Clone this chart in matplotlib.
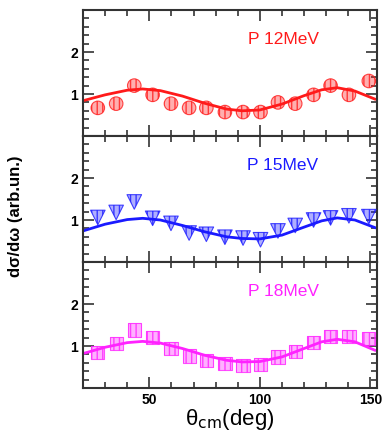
import matplotlib
matplotlib.use("Agg")
import matplotlib.pyplot as plt
from matplotlib.ticker import MultipleLocator

plt.rcParams['font.family'] = ['Liberation Sans', 'DejaVu Sans']

theta = [26.7, 35.0, 43.2, 51.5, 59.8, 68.0, 75.8, 84.2, 92.4, 100.3, 108.2, 116.0, 124.3, 132.0, 140.3, 149.3]
y12 = [0.67, 0.77, 1.20, 0.98, 0.77, 0.67, 0.67, 0.57, 0.57, 0.57, 0.80, 0.77, 0.98, 1.20, 0.98, 1.31]
y15 = [1.06, 1.18, 1.43, 1.04, 0.92, 0.69, 0.66, 0.59, 0.57, 0.53, 0.74, 0.87, 1.00, 1.05, 1.10, 1.08]
y18 = [0.84, 1.06, 1.38, 1.20, 0.94, 0.76, 0.66, 0.58, 0.54, 0.55, 0.74, 0.87, 1.08, 1.22, 1.22, 1.18]

curve_x = [20, 30, 40, 47, 55, 65, 75, 85, 92, 100, 110, 120, 128, 135, 143, 152]
c12 = [0.84, 0.98, 1.09, 1.12, 1.08, 0.95, 0.78, 0.64, 0.60, 0.62, 0.76, 0.96, 1.10, 1.15, 1.07, 0.88]
c15 = [0.74, 0.90, 1.01, 1.04, 1.00, 0.87, 0.72, 0.60, 0.56, 0.55, 0.64, 0.83, 0.98, 1.05, 1.00, 0.82]
c18 = [0.82, 0.97, 1.08, 1.11, 1.07, 0.94, 0.78, 0.66, 0.62, 0.63, 0.74, 0.94, 1.10, 1.16, 1.10, 0.90]

labels = ['P 12MeV', 'P 15MeV', 'P 18MeV']
colors = ['#ff1a1a', '#1a1aff', '#ff22ff']
markers = ['o', 'v', 's']
sizes = [95, 110, 90]

fig = plt.figure(figsize=(3.88, 4.32), dpi=100)
L, R, B, T = 83/388, 377/388, 1 - 388/432, 1 - 10/432
h = (T - B) / 3
datas = [(y12, c12), (y15, c15), (y18, c18)]
for i in range(3):
    ax = fig.add_axes([L, T - (i + 1) * h, R - L, h])
    yd, cd = datas[i]
    col = colors[i]
    ax.plot(curve_x, cd, color=col, lw=2, zorder=2)
    ax.scatter(theta, yd, s=sizes[i], marker=markers[i],
               facecolor=col, alpha=0.35, edgecolor='none', zorder=3)
    ax.scatter(theta, yd, s=sizes[i], marker=markers[i],
               facecolor='none', edgecolor=col, hatch='|||', lw=0.8, alpha=0.8, zorder=4)
    ax.text(110.5, 2.3, labels[i], color=col, fontsize=12.5, ha='center', va='center')
    ax.set_xlim(20, 153)
    ax.set_ylim(0, 3)
    ax.set_yticks([1, 2])
    ax.yaxis.set_minor_locator(MultipleLocator(0.2))
    ax.set_xticks([50, 100, 150])
    ax.xaxis.set_minor_locator(MultipleLocator(10))
    ax.tick_params(which='both', direction='in', top=True, right=True, color='#333333', width=1.2)
    ax.tick_params(which='major', length=8)
    ax.tick_params(which='minor', length=4)
    ax.tick_params(labelsize=10)
    for lab in ax.get_yticklabels() + ax.get_xticklabels():
        lab.set_fontweight('bold')
    for sp in ax.spines.values():
        sp.set_linewidth(1.5)
        sp.set_color('#333333')
    if i < 2:
        ax.set_xticklabels([])
    else:
        ax.set_xlabel('θ$_{\\rm cm}$(deg)', fontsize=16, labelpad=0)

fig.text(0.04, 0.5, 'dσ/dω (arb.un.)', rotation=90, ha='center', va='center', fontsize=12, fontweight='bold')
fig.savefig('out.png', dpi=100)
